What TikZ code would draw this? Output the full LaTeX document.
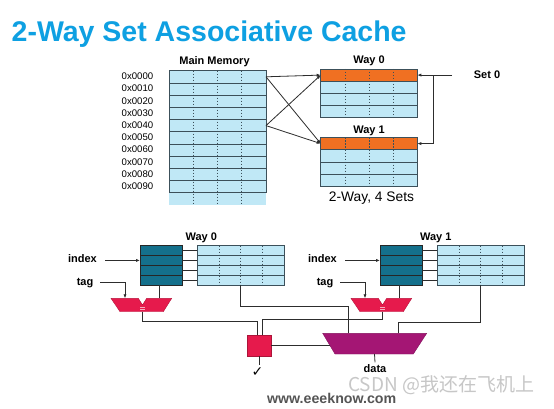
\documentclass[tikz,border=0pt]{standalone}
\usepackage{fontspec}
\setmainfont{Liberation Sans}
\newfontfamily\dejavu{DejaVu Sans}
\newfontfamily\cjkfont{Noto Sans CJK SC}
\usetikzlibrary{arrows.meta}
\definecolor{titleblue}{RGB}{14,160,226}
\definecolor{cellblue}{RGB}{192,232,246}
\definecolor{setorange}{RGB}{240,112,34}
\definecolor{tagteal}{RGB}{20,112,140}
\definecolor{cmpred}{RGB}{230,26,76}
\definecolor{muxpurple}{RGB}{164,22,116}
\definecolor{wirecol}{RGB}{45,45,45}
\definecolor{gridline}{RGB}{60,80,90}
\definecolor{eqpink}{RGB}{246,170,188}
\definecolor{webgray}{RGB}{85,85,85}
\begin{document}
\begin{tikzpicture}[x=1pt,y=-1pt,
  lbl/.style={font=\fontsize{11}{13}\selectfont\bfseries, inner sep=0pt},
  addr/.style={font=\fontsize{9.6}{11}\selectfont, inner sep=0pt, anchor=base west},
  memcell/.style={draw=gridline, line width=0.75pt, fill=cellblue, minimum width=97pt, minimum height=12.2pt, inner sep=0pt, outer sep=0pt},
  setcell/.style={draw=gridline, line width=0.75pt, fill=cellblue, minimum width=96.6pt, minimum height=12.2pt, inner sep=0pt, outer sep=0pt},
  tagcell/.style={draw=black!85, line width=0.7pt, fill=tagteal, minimum width=42.3pt, minimum height=9.83pt, inner sep=0pt, outer sep=0pt},
  datacell/.style={draw=gridline, line width=0.7pt, fill=cellblue, minimum width=86.7pt, minimum height=9.83pt, inner sep=0pt, outer sep=0pt},
  dashline/.style={draw=gridline, line width=0.6pt, dash pattern=on 1.5pt off 1.5pt},
  conn/.style={draw=wirecol, line width=0.8pt},
  arr/.style={conn, -{Latex[length=4pt,width=3.2pt]}}
]
\fill[white] (0,0) rectangle (554,409);
\useasboundingbox (0,0) rectangle (554,409);

% title
\node[anchor=base west, font=\fontsize{28.5}{32}\selectfont\bfseries, text=titleblue, inner sep=0pt] (title) at (11.5,41.7) {2-Way Set Associative Cache};

% main memory
\node[lbl, anchor=base] (mmlabel) at (214.5,65) {Main Memory};
\fill[cellblue] (169,192.7) rectangle (266,205);
\foreach \i in {0,...,9}{
  \node[memcell] (m\i) at (217.5,{76.8+12.2*\i}) {};
}
\foreach \x in {193.25,217.5,241.75} \draw[dashline] (\x,70.7) -- (\x,205);
\foreach \i/\a in {0/0000,1/0010,2/0020,3/0030,4/0040,5/0050,6/0060,7/0070,8/0080,9/0090}{
  \node[addr] (a\i) at (121.5,{79.8+12.2*\i}) {0x\a};
}

% top ways
\node[lbl, anchor=base] (w0lbl) at (369,64) {Way 0};
\node[lbl, anchor=base] (w1lbl) at (369,133.3) {Way 1};
\foreach \i in {0,...,3}{
  \node[setcell] (w0r\i) at (369,{75.1+12.2*\i}) {};
  \node[setcell] (w1r\i) at (369,{143.6+12.2*\i}) {};
}
\node[setcell, fill=setorange] at (w0r0) {};
\node[setcell, fill=setorange] at (w1r0) {};
\foreach \x in {344.85,369,393.15}{
  \draw[dashline] (\x,69) -- (\x,117.8);
  \draw[dashline] (\x,137.5) -- (\x,186.3);
}
\node[font=\fontsize{13.8}{16}\selectfont, inner sep=0pt, anchor=base] (caption) at (371.5,201.7) {2-Way, 4 Sets};

% mapping lines
\draw[arr] (m0.east) -- (w0r0.west);
\draw[arr] (m0.east) -- (w1r0.west);
\draw[arr] (m4.east) -- (w0r0.west);
\draw[arr] (m4.east) -- (w1r0.west);

% set 0
\node[lbl, anchor=base] (set0) at (487,78.3) {Set 0};
\coordinate (s0) at (452,75.1);
\coordinate (sj) at (433.3,75.1);
\draw[arr] (s0) -- (w0r0.east);
\draw[arr] (sj) |- (w1r0.east);

% bottom: lookup hardware
\node[lbl, anchor=base] (bw0) at (201.3,240.7) {Way 0};
\node[lbl, anchor=base] (bw1) at (435.8,240.7) {Way 1};
\foreach \w in {0,1}{
\begin{scope}[xshift={\w*240pt}]
  \foreach \i in {0,...,3}{
    \node[tagcell] (t\w-\i) at (161.15,{250.6+9.83*\i}) {};
    \node[datacell] (d\w-\i) at (240.65,{250.6+9.83*\i}) {};
    \draw[conn] (t\w-\i.east) -- (d\w-\i.west);
  }
  \foreach \x in {219,240.65,262.3} \draw[dashline] (\x,245.7) -- (\x,285);
  \coordinate (d\w) at (240.65,285);
  % labels
  \node[lbl, anchor=base east] (idx\w) at (97,262.7) {index};
  \coordinate (ii\w) at (105,260.45);
  \draw[arr] (ii\w) -- (t\w-1.west);
  \node[lbl, anchor=base east] (tg\w) at (93.5,285) {tag};
  \coordinate (tgs\w) at (100,282.3);
  \coordinate (cin\w) at (125,298.3);
  \draw[arr] (tgs\w) -| (cin\w);
  % comparator
  \filldraw[fill=cmpred, draw=cmpred!80!black, line width=0.4pt]
    (111,298.3) -- (138.3,298.3) -- (142.5,305) -- (146.7,298.3) -- (171.7,298.3)
    -- (163.3,311.7) -- (120,311.7) -- cycle;
  \draw[eqpink, line width=0.8pt] (140,307.2) -- (145,307.2) (140,309.4) -- (145,309.4);
  \coordinate (cit\w) at (159,298.3);
  \draw[conn] (t\w-3.south -| cit\w) -- (cit\w);
  \coordinate (cb\w) at (142.3,311.7);
\end{scope}}

% hit logic
\node[fill=cmpred, draw=cmpred!75!black, line width=0.4pt, minimum width=23.4pt, minimum height=20.7pt, inner sep=0pt] (hit) at (259,345.4) {};
\draw[conn] (cb0) -- ++(0,10) -| ([xshift=-1.7pt]hit.north);
\draw[conn] (cb1) -- ++(0,7.5) -| ([xshift=3.3pt]hit.north);

% mux
\filldraw[fill=muxpurple, draw=muxpurple!80!black, line width=0.4pt] (322.7,333.3) -- (426.7,333.3) -- (413.3,354) -- (335,354) -- cycle;
\coordinate (muxin0) at (348.3,333.3);
\coordinate (muxin1) at (398.3,333.3);
\coordinate (muxsel) at (329.6,345.4);
\coordinate (muxout) at (374.5,354);
\draw[conn] (d0) -- ++(0,21.7) -| (muxin0);
\draw[conn] (d1) -- ++(0,37) -| (muxin1);
\draw[conn] (hit.east) -- (muxsel);

\node[lbl, anchor=base] (dataout) at (375,372.5) {data};
\draw[conn] (muxout) -- ([yshift=2pt]dataout.north);
\node[font=\dejavu\bfseries\fontsize{14}{16}\selectfont, inner sep=0pt, anchor=base] (chk) at (257.5,376) {✓};
\draw[conn] (hit.south) -- ([yshift=2pt]chk.north -| hit.south);

% footer
\node[font=\fontsize{14.2}{16}\selectfont\bfseries, text=webgray, inner sep=0pt, anchor=base] (web) at (331.7,403.5) {www.eeeknow.com};
\node[font=\cjkfont\fontsize{19}{21}\selectfont, text=gray!55, opacity=0.8, inner sep=0pt, anchor=base west] (wm) at (348,391) {CSDN @我还在飞机上};
\end{tikzpicture}
\end{document}
